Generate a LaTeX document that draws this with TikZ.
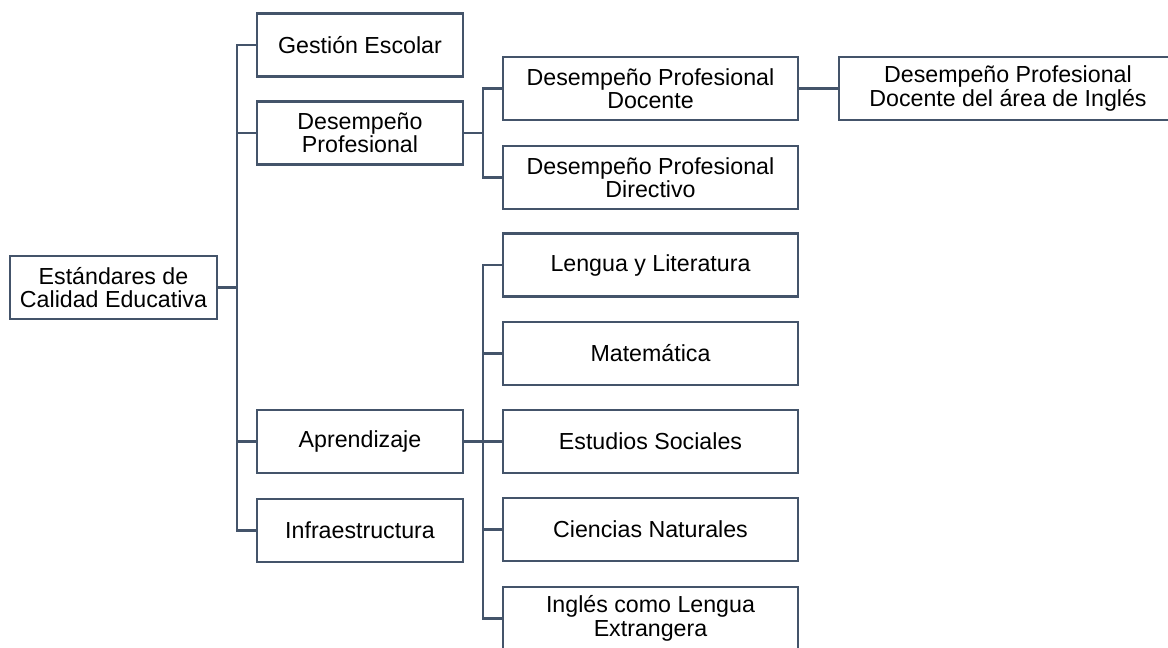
\documentclass[tikz,border=0pt]{standalone}
\usepackage{fontspec}
\setmainfont{Liberation Sans}
\usepackage{tikz}

\definecolor{slateline}{HTML}{44546A}

\tikzset{
  stdbox/.style={draw=slateline,line width=1.9pt,rectangle,fill=white,align=center,
    inner sep=0pt,minimum height=47.25pt,font=\fontsize{17.4}{17.6}\selectfont},
  lvlone/.style={stdbox,minimum width=154.5pt},
  lvltwo/.style={stdbox,minimum width=221.25pt},
  link/.style={draw=slateline,line width=1.9pt}
}

\begin{document}
\begin{tikzpicture}[x=0.75pt,y=-0.75pt]
  \clip (0,0) rectangle (1168,647);
  \fill[white] (0,0) rectangle (1168,647);

  \node[stdbox,minimum width=155.25pt] (root) at (113.5,287.5) {Estándares de\\Calidad Educativa};

  \node[lvlone] (gestion) at (360,45) {Gestión Escolar};
  \node[lvlone] (desemp) at (360,133) {Desempeño\\Profesional};
  \node[lvlone] (aprend) at (360,441.5) {Aprendizaje};
  \node[lvlone] (infra) at (360,530.5) {Infraestructura};

  \node[lvltwo] (docente) at (650.5,88.5) {Desempeño Profesional\\Docente};
  \node[lvltwo] (directivo) at (650.5,177.5) {Desempeño Profesional\\Directivo};
  \node[stdbox,minimum width=253.5pt] (docingles) at (1008,88.5) {Desempeño Profesional\\Docente del área de Inglés};

  \node[lvltwo] (lengua) at (650.5,265) {Lengua y Literatura};
  \node[lvltwo] (mate) at (650.5,353.5) {Matemática};
  \node[lvltwo] (sociales) at (650.5,441.5) {Estudios Sociales};
  \node[lvltwo] (naturales) at (650.5,529.5) {Ciencias Naturales};
  \node[lvltwo] (extranjera) at (650.5,618.5) {Inglés como Lengua\\Extrangera};

  \coordinate (trunk) at (237,287.5);
  \coordinate (dtrunk) at (483,133);
  \coordinate (atrunk) at (483,441.5);

  \draw[link] (root.east) -- (trunk);
  \foreach \n in {gestion,desemp,aprend,infra}
    \draw[link] (trunk) |- (\n.west);

  \draw[link] (desemp.east) -- (dtrunk);
  \foreach \n in {docente,directivo}
    \draw[link] (dtrunk) |- (\n.west);

  \draw[link] (aprend.east) -- (atrunk);
  \foreach \n in {lengua,mate,sociales,naturales,extranjera}
    \draw[link] (atrunk) |- (\n.west);

  \draw[link] (docente.east) -- (docingles.west);
\end{tikzpicture}
\end{document}
